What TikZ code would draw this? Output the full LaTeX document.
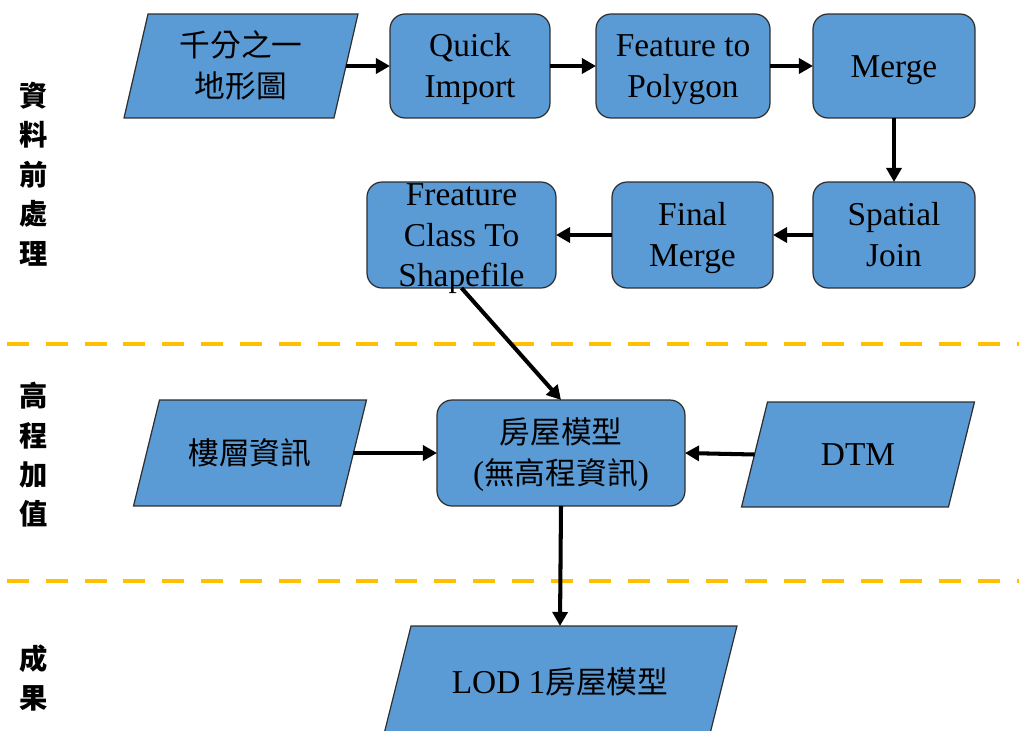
\documentclass[tikz,border=0pt]{standalone}
\usepackage{fontspec}
\setmainfont{Liberation Serif}
\newfontfamily\cjk{Noto Sans CJK TC}[Scale=0.92]
\usetikzlibrary{arrows.meta,backgrounds}
\definecolor{boxblue}{HTML}{5B9BD5}
\definecolor{edgegray}{HTML}{2E2E2E}
\definecolor{sepgold}{HTML}{FFC000}
% centred block of lines that does not affect the node size
\newcommand\boxlines[1]{\smash{\raisebox{-6pt}{\begin{tabular}{@{}c@{}}#1\end{tabular}}}}

\begin{document}
\begin{tikzpicture}[x=0.02cm,y=-0.02cm,
  txt/.style={font=\fontsize{19}{23}\selectfont, inner sep=0pt, outer sep=0pt},
  procbox/.style={txt, draw=edgegray, line width=0.7pt, fill=boxblue, rounded corners=0.3cm},
  iobox/.style={txt},
  slantfill/.style={draw=edgegray, line width=0.7pt, fill=boxblue},
  flow/.style={line width=2.3pt, -{Triangle[length=8pt,width=8.5pt]}},
  sepline/.style={sepgold, line width=2.8pt, dash pattern=on 12.5pt off 9.6pt},
  side/.style={font=\fontsize{17.5}{22.4}\selectfont\cjk\bfseries, align=center, inner sep=0pt}
]
\useasboundingbox (0,0) rectangle (1019,731);

% stage separators
\coordinate (sepAl) at (7,344);   \coordinate (sepAr) at (1019,344);
\coordinate (sepBl) at (7,581);   \coordinate (sepBr) at (1019,581);
\draw[sepline] (sepAl) -- (sepAr);
\draw[sepline] (sepBl) -- (sepBr);

% stage labels
\node[side] (lblprep)  at (34,174) {資\\料\\前\\處\\理};
\node[side] (lblelev)  at (34,455) {高\\程\\加\\值};
\node[side] (lblres)   at (34,678) {成\\果};

% preprocessing chain
\node[iobox, minimum width=4.2cm, minimum height=2.08cm] (topo) at (241,66) {\boxlines{{\cjk 千分之一}\\{\cjk 地形圖}}};
\node[procbox, minimum width=3.2cm, minimum height=2.08cm] (quick) at (470,66) {\boxlines{Quick\\Import}};
\node[procbox, minimum width=3.48cm, minimum height=2.08cm] (f2p) at (683,66) {\boxlines{Feature to\\Polygon}};
\node[procbox, minimum width=3.24cm, minimum height=2.08cm] (merge) at (894,66) {\boxlines{Merge}};
\node[procbox, minimum width=3.24cm, minimum height=2.12cm] (sjoin) at (894,235) {\boxlines{Spatial\\Join}};
\node[procbox, minimum width=3.22cm, minimum height=2.12cm] (fmerge) at (692.5,235) {\boxlines{Final\\Merge}};
\node[procbox, minimum width=3.78cm, minimum height=2.12cm] (fc2shp) at (461.5,235) {\boxlines{Freature\\Class To\\Shapefile}};

% elevation stage
\node[iobox, minimum width=4.14cm, minimum height=2.12cm] (floors) at (250,453) {\boxlines{{\cjk 樓層資訊}}};
\node[procbox, minimum width=4.96cm, minimum height=2.12cm] (house) at (561,453) {\boxlines{{\cjk 房屋模型}\\({\cjk 無高程資訊})}};
\node[iobox, minimum width=4.14cm, minimum height=2.1cm] (dtm) at (858,454.5) {\boxlines{DTM}};

% result
\node[iobox, minimum width=6.52cm, minimum height=2.24cm] (lod) at (560,682) {\boxlines{LOD 1{\cjk 房屋模型}}};

% slanted data shapes behind their labels
\begin{scope}[on background layer]
  \draw[slantfill] ([xshift=-0.24cm]topo.south west) -- ([xshift=-0.24cm]topo.south east)
    -- ([xshift=0.24cm]topo.north east) -- ([xshift=0.24cm]topo.north west) -- cycle;
  \draw[slantfill] ([xshift=-0.26cm]floors.south west) -- ([xshift=-0.26cm]floors.south east)
    -- ([xshift=0.26cm]floors.north east) -- ([xshift=0.26cm]floors.north west) -- cycle;
  \draw[slantfill] ([xshift=-0.26cm]dtm.south west) -- ([xshift=-0.26cm]dtm.south east)
    -- ([xshift=0.26cm]dtm.north east) -- ([xshift=0.26cm]dtm.north west) -- cycle;
  \draw[slantfill] ([xshift=-0.28cm]lod.south west) -- ([xshift=-0.28cm]lod.south east)
    -- ([xshift=0.28cm]lod.north east) -- ([xshift=0.28cm]lod.north west) -- cycle;
\end{scope}

% connectors
\draw[flow] (topo.east) -- (quick.west);
\draw[flow] (quick.east) -- (f2p.west);
\draw[flow] (f2p.east) -- (merge.west);
\draw[flow] (merge.south) -- (sjoin.north);
\draw[flow] (sjoin.west) -- (fmerge.east);
\draw[flow] (fmerge.west) -- (fc2shp.east);
\draw[flow] (fc2shp.south) -- (house.north);
\draw[flow] (floors.east) -- (house.west);
\draw[flow] (dtm.west) -- (house.east);
\draw[flow] (house.south) -- (lod.north);
\end{tikzpicture}
\end{document}
